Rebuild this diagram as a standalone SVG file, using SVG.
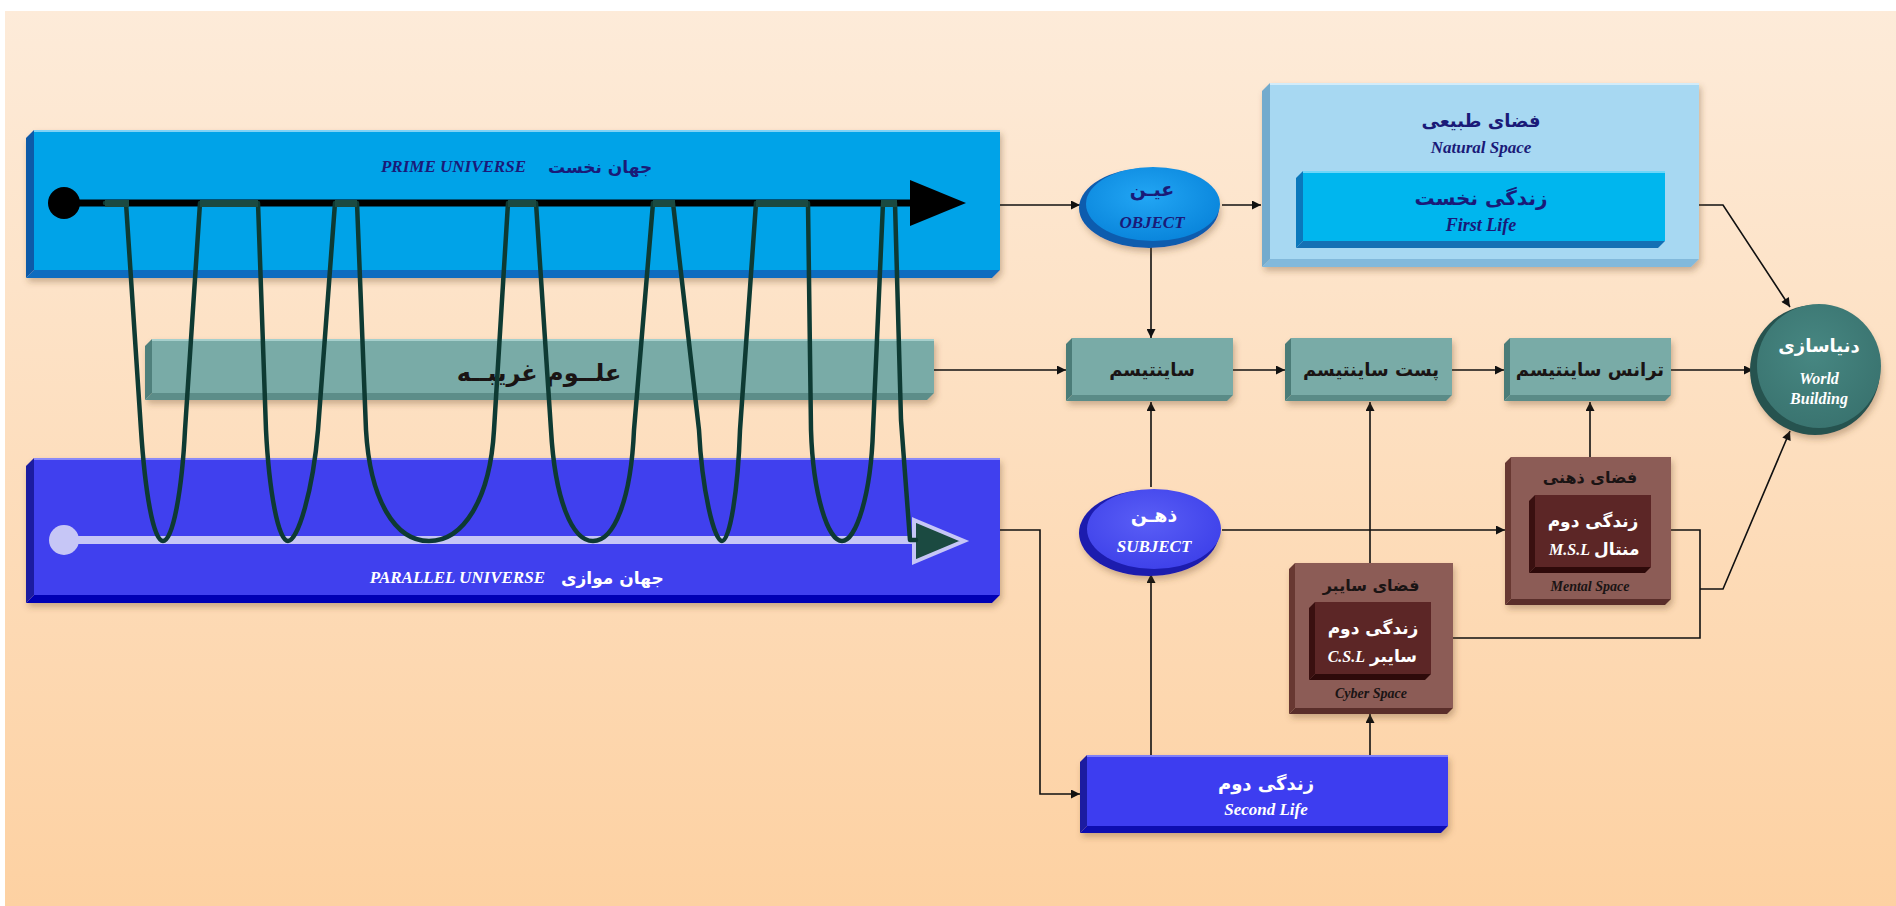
<svg xmlns="http://www.w3.org/2000/svg" width="1896" height="906" viewBox="0 0 1896 906">
<defs>
<linearGradient id="bg" x1="0" y1="0" x2="0" y2="1">
<stop offset="0" stop-color="#fdebd9"/>
<stop offset="1" stop-color="#fdd1a2"/>
</linearGradient>
<radialGradient id="gObj" cx="0.45" cy="0.4" r="0.6">
<stop offset="0" stop-color="#22a6f4"/>
<stop offset="1" stop-color="#0a86dc"/>
</radialGradient>
<radialGradient id="gSub" cx="0.45" cy="0.4" r="0.6">
<stop offset="0" stop-color="#5a5ef6"/>
<stop offset="1" stop-color="#3f42ea"/>
</radialGradient>
<radialGradient id="gWld" cx="0.45" cy="0.4" r="0.6">
<stop offset="0" stop-color="#478782"/>
<stop offset="1" stop-color="#3a7470"/>
</radialGradient>
<filter id="sh" x="-10%" y="-10%" width="125%" height="130%">
<feDropShadow dx="2" dy="4" stdDeviation="3" flood-color="#6b4a2a" flood-opacity="0.35"/>
</filter>
<marker id="ah" viewBox="0 0 10 10" refX="10" refY="5" markerWidth="11" markerHeight="9" markerUnits="userSpaceOnUse" orient="auto">
<path d="M0,0 L10,5 L0,10 z" fill="#111"/>
</marker>
</defs>
<style>
.en{font-family:"Liberation Serif","Times New Roman",serif;font-weight:bold;font-style:italic}
.fa{font-family:"DejaVu Sans",sans-serif;font-weight:bold}
.navy{fill:#1a1a78}
.dk{fill:#1a1414}
.wh{fill:#ffffff}
.con{fill:none;stroke:#111;stroke-width:1.6}
.coil{fill:none;stroke:#0e3a33;stroke-width:4.5;stroke-linejoin:round;stroke-linecap:round}
</style>

<rect x="0" y="0" width="1896" height="906" fill="#ffffff"/>
<rect x="5" y="11" width="1891" height="895" fill="url(#bg)"/>

<!-- Prime universe -->
<g id="prime-universe" filter="url(#sh)">
<polygon points="26,138 34,130 34,270 26,278" fill="#0a5aa8"/>
<polygon points="26,278 34,270 1000,270 992,278" fill="#0a6cc0"/>
<rect x="34" y="130" width="966" height="140" fill="#00a3e8"/>
<rect x="34" y="130" width="966" height="2" fill="#7fd2f6"/>
</g>
<g id="prime-label">
<text x="526" y="172" text-anchor="end" class="en navy" font-size="17">PRIME UNIVERSE</text>
<text x="548" y="173" text-anchor="start" class="fa navy" font-size="17">جهان نخست</text>
</g>
<g id="prime-arrow">
<line x1="64" y1="203" x2="915" y2="203" stroke="#000" stroke-width="7"/>
<circle cx="64" cy="203" r="16" fill="#000"/>
<polygon points="910,180 966,203 910,226" fill="#000"/>
</g>

<!-- Parallel universe -->
<g id="parallel-universe" filter="url(#sh)">
<polygon points="26,466 34,458 34,595 26,603" fill="#1a1aa0"/>
<polygon points="26,603 34,595 1000,595 992,603" fill="#0000b4"/>
<rect x="34" y="458" width="966" height="137" fill="#3f3fee"/>
<rect x="34" y="458" width="966" height="2" fill="#8a8af8"/>
</g>
<g id="parallel-label">
<text x="545" y="583" text-anchor="end" class="en wh" font-size="17">PARALLEL UNIVERSE</text>
<text x="561" y="584" text-anchor="start" class="fa wh" font-size="17">جهان موازی</text>
</g>
<g id="parallel-arrow">
<line x1="64" y1="540" x2="915" y2="540" stroke="#c6c6f6" stroke-width="8"/>
<circle cx="64" cy="540" r="15" fill="#c6c6f6"/>
<polygon points="914,520 964,541 914,562" fill="#1b4a41" stroke="#c6c6f6" stroke-width="4" stroke-linejoin="miter"/>
</g>

<!-- Occult sciences band -->
<g id="occult-sciences">
<g filter="url(#sh)">
<polygon points="145,346 152,339 152,393 145,400" fill="#4f807c"/>
<polygon points="145,400 152,393 934,393 927,400" fill="#5b8d89"/>
<rect x="152" y="339" width="782" height="54" fill="#79aba7"/>
<rect x="152" y="339" width="782" height="2" fill="#a6cfcc"/>
</g>
<text x="539" y="381" text-anchor="middle" class="fa dk" font-size="24">علــوم  غریبــه</text>
</g>

<!-- Coil -->
<g id="coil">
<path class="coil" d="M105,203 H126 L141,430 C145,490 153,541 163,541 C173,541 182,490 185,430 L200,203 H258 L266,430 C269,490 278,541 288,541 C298,541 313,490 318,430 L335,203 H357 L366,430 C370,500 395,541 429,541 C463,541 490,500 494,430 L508,203 H536 L551,430 C555,500 572,541 593,541 C614,541 631,500 634,430 L653,203 H673 L699,430 C702,490 714,541 722,541 C730,541 738,490 740,430 L756,203 H808 L811,430 C813,495 828,541 842,541 C856,541 871,495 873,430 L883,203 H895 L901,420 L910,540 H916"/>
<g fill="#1b4a41">
<rect x="105" y="200" width="24" height="7"/>
<rect x="200" y="200" width="58" height="7"/>
<rect x="335" y="200" width="22" height="7"/>
<rect x="508" y="200" width="28" height="7"/>
<rect x="653" y="200" width="22" height="7"/>
<rect x="756" y="200" width="52" height="7"/>
<rect x="881" y="200" width="16" height="7"/>
</g>
</g>

<!-- Connectors -->
<g id="connectors">
<path class="con" d="M1000,205 H1080" marker-end="url(#ah)"/>
<path class="con" d="M1222,205 H1261" marker-end="url(#ah)"/>
<path class="con" d="M1698,205 H1723 L1790,307" marker-end="url(#ah)"/>
<path class="con" d="M1151,245 V338" marker-end="url(#ah)"/>
<path class="con" d="M934,370 H1066" marker-end="url(#ah)"/>
<path class="con" d="M1233,370 H1285" marker-end="url(#ah)"/>
<path class="con" d="M1452,370 H1504" marker-end="url(#ah)"/>
<path class="con" d="M1671,370 H1753" marker-end="url(#ah)"/>
<path class="con" d="M1000,530 H1040 V794 H1080" marker-end="url(#ah)"/>
<path class="con" d="M1151,755 V574" marker-end="url(#ah)"/>
<path class="con" d="M1151,487 V402" marker-end="url(#ah)"/>
<path class="con" d="M1222,530 H1505" marker-end="url(#ah)"/>
<path class="con" d="M1370,755 V714" marker-end="url(#ah)"/>
<path class="con" d="M1370,563 V402" marker-end="url(#ah)"/>
<path class="con" d="M1590,457 V402" marker-end="url(#ah)"/>
<path class="con" d="M1671,530 H1700 V638 H1453"/>
<path class="con" d="M1700,589 H1723 L1790,431" marker-end="url(#ah)"/>
</g>

<!-- Object -->
<g id="object">
<ellipse cx="1149" cy="208" rx="70" ry="40" fill="#0a5cae" filter="url(#sh)"/>
<ellipse cx="1153" cy="204" rx="67" ry="37" fill="url(#gObj)"/>
<text x="1152" y="196" text-anchor="middle" class="fa navy" font-size="19">عیـن</text>
<text x="1152" y="228" text-anchor="middle" class="en navy" font-size="17">OBJECT</text>
</g>

<!-- Natural space -->
<g id="natural-space">
<g filter="url(#sh)">
<polygon points="1262,91 1270,83 1270,259 1262,267" fill="#73abcd"/>
<polygon points="1262,267 1270,259 1699,259 1691,267" fill="#82b9db"/>
<rect x="1270" y="83" width="429" height="176" fill="#a7d8f2"/>
<rect x="1270" y="83" width="429" height="2" fill="#d2ecfa"/>
</g>
<text x="1481" y="127" text-anchor="middle" class="fa navy" font-size="18">فضای طبیعی</text>
<text x="1481" y="153" text-anchor="middle" class="en navy" font-size="17">Natural Space</text>
</g>
<g id="first-life">
<polygon points="1296,178 1303,171 1303,241 1296,248" fill="#0a78bc"/>
<polygon points="1296,248 1303,241 1665,241 1658,248" fill="#1470b4"/>
<rect x="1303" y="171" width="362" height="70" fill="#00b6ee"/>
<rect x="1303" y="171" width="362" height="2" fill="#6fd6f8"/>
<text x="1481" y="205" text-anchor="middle" class="fa navy" font-size="20">زندگی نخست</text>
<text x="1481" y="231" text-anchor="middle" class="en navy" font-size="18">First Life</text>
</g>

<!-- Scientism row -->
<g id="scientism">
<g filter="url(#sh)">
<polygon points="1066,344 1072,338 1072,395 1066,401" fill="#4c7c78"/>
<polygon points="1066,401 1072,395 1233,395 1227,401" fill="#5a8b87"/>
<rect x="1072" y="338" width="161" height="57" fill="#79aba7"/>
</g>
<text x="1152" y="376" text-anchor="middle" class="fa dk" font-size="18">ساینتیسم</text>
</g>
<g id="post-scientism">
<g filter="url(#sh)">
<polygon points="1285,344 1291,338 1291,395 1285,401" fill="#4c7c78"/>
<polygon points="1285,401 1291,395 1452,395 1446,401" fill="#5a8b87"/>
<rect x="1291" y="338" width="161" height="57" fill="#79aba7"/>
</g>
<text x="1371" y="376" text-anchor="middle" class="fa dk" font-size="18">پست ساینتیسم</text>
</g>
<g id="trans-scientism">
<g filter="url(#sh)">
<polygon points="1504,344 1510,338 1510,395 1504,401" fill="#4c7c78"/>
<polygon points="1504,401 1510,395 1671,395 1665,401" fill="#5a8b87"/>
<rect x="1510" y="338" width="161" height="57" fill="#79aba7"/>
</g>
<text x="1590" y="376" text-anchor="middle" class="fa dk" font-size="18">ترانس ساینتیسم</text>
</g>

<!-- World building -->
<g id="world-building">
<circle cx="1815" cy="370" r="65" fill="#27524f" filter="url(#sh)"/>
<circle cx="1819" cy="366" r="62" fill="url(#gWld)"/>
<text x="1819" y="352" text-anchor="middle" class="fa wh" font-size="18">دنیاسازی</text>
<text x="1819" y="384" text-anchor="middle" class="en wh" font-size="16">World</text>
<text x="1819" y="404" text-anchor="middle" class="en wh" font-size="16">Building</text>
</g>

<!-- Subject -->
<g id="subject">
<ellipse cx="1149" cy="533" rx="70" ry="43" fill="#1e1eae" filter="url(#sh)"/>
<ellipse cx="1154" cy="529" rx="67" ry="40" fill="url(#gSub)"/>
<text x="1154" y="522" text-anchor="middle" class="fa wh" font-size="19">ذهـن</text>
<text x="1154" y="552" text-anchor="middle" class="en wh" font-size="17">SUBJECT</text>
</g>

<!-- Mental space -->
<g id="mental-space">
<g filter="url(#sh)">
<polygon points="1505,463 1511,457 1511,599 1505,605" fill="#673733"/>
<polygon points="1505,605 1511,599 1671,599 1665,605" fill="#5a2d2a"/>
<rect x="1511" y="457" width="160" height="142" fill="#8c5b56"/>
</g>
<polygon points="1529,501 1535,495 1535,567 1529,573" fill="#3a1010"/>
<polygon points="1529,573 1535,567 1651,567 1645,573" fill="#2e0a0a"/>
<rect x="1535" y="495" width="116" height="72" fill="#5c2626"/>
<text x="1590" y="483" text-anchor="middle" class="fa dk" font-size="16">فضای ذهنی</text>
<text x="1593" y="527" text-anchor="middle" class="fa wh" font-size="17">زندگی دوم</text>
<text x="1590" y="555" text-anchor="end" class="en wh" font-size="16">M.S.L</text>
<text x="1594" y="555" text-anchor="start" class="fa wh" font-size="17">منتال</text>
<text x="1590" y="591" text-anchor="middle" class="en dk" font-size="14">Mental Space</text>
</g>

<!-- Cyber space -->
<g id="cyber-space">
<g filter="url(#sh)">
<polygon points="1289,569 1295,563 1295,708 1289,714" fill="#673733"/>
<polygon points="1289,714 1295,708 1453,708 1447,714" fill="#5a2d2a"/>
<rect x="1295" y="563" width="158" height="145" fill="#8c5b56"/>
</g>
<polygon points="1309,608 1315,602 1315,674 1309,680" fill="#3a1010"/>
<polygon points="1309,680 1315,674 1431,674 1425,680" fill="#2e0a0a"/>
<rect x="1315" y="602" width="116" height="72" fill="#5c2626"/>
<text x="1371" y="591" text-anchor="middle" class="fa dk" font-size="16">فضای سایبر</text>
<text x="1373" y="634" text-anchor="middle" class="fa wh" font-size="17">زندگی دوم</text>
<text x="1365" y="662" text-anchor="end" class="en wh" font-size="16">C.S.L</text>
<text x="1370" y="662" text-anchor="start" class="fa wh" font-size="17">سایبر</text>
<text x="1371" y="698" text-anchor="middle" class="en dk" font-size="14">Cyber Space</text>
</g>

<!-- Second life -->
<g id="second-life">
<g filter="url(#sh)">
<polygon points="1080,762 1087,755 1087,826 1080,833" fill="#1a1aa0"/>
<polygon points="1080,833 1087,826 1448,826 1441,833" fill="#0a0ab0"/>
<rect x="1087" y="755" width="361" height="71" fill="#3c3cf0"/>
<rect x="1087" y="755" width="361" height="2" fill="#8080f8"/>
</g>
<text x="1266" y="790" text-anchor="middle" class="fa wh" font-size="18">زندگی دوم</text>
<text x="1266" y="815" text-anchor="middle" class="en wh" font-size="17">Second Life</text>
</g>
</svg>
